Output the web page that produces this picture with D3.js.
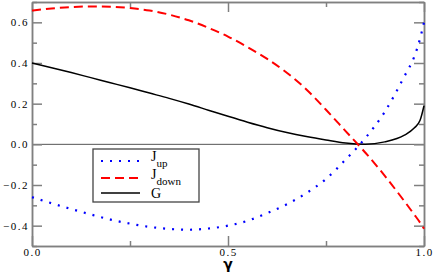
<!DOCTYPE html>
<html>
<head>
<meta charset="utf-8">
<script src="https://cdn.jsdelivr.net/npm/d3@7"></script>
<style>
  body { margin: 0; background: #fff; }
</style>
</head>
<body>
<script>
var w = 436;
var h = 273;
var plotLeft = 32, plotRight = 424, plotTop = 2, plotBottom = 246;
var serif = "'Liberation Serif', 'DejaVu Serif', serif";

// data
var gamma = [0, 0.05, 0.1, 0.15, 0.2, 0.25, 0.3, 0.35, 0.4, 0.45, 0.5, 0.55, 0.6, 0.65, 0.7, 0.75, 0.8, 0.85, 0.9, 0.95, 0.975, 0.99, 1.0];
var jUp = [-0.26, -0.29, -0.318, -0.345, -0.37, -0.39, -0.406, -0.416, -0.42, -0.414, -0.40, -0.376, -0.338, -0.295, -0.24, -0.17, -0.075, 0.03, 0.16, 0.335, 0.43, 0.52, 0.60];
var jDown = [0.658, 0.668, 0.675, 0.678, 0.677, 0.670, 0.658, 0.638, 0.61, 0.573, 0.53, 0.478, 0.42, 0.352, 0.27, 0.17, 0.065, -0.04, -0.155, -0.28, -0.345, -0.385, -0.415];
var G = [0.40, 0.377, 0.353, 0.328, 0.303, 0.278, 0.252, 0.226, 0.198, 0.168, 0.138, 0.109, 0.082, 0.058, 0.038, 0.021, 0.006, 0.0, 0.012, 0.045, 0.08, 0.118, 0.19];

var xMajor = [0, 0.5, 1.0];
var xMinor = [0.25, 0.75];
var yMajor = [-0.4, -0.2, 0.0, 0.2, 0.4, 0.6];
var yMinor = [-0.5, -0.3, -0.1, 0.1, 0.3, 0.5, 0.7];

var legendNames = ["J", "J", "G"];
var legendSubs = ["up", "down", ""];

var xScale = d3.scaleLinear().domain([0, 1]).range([plotLeft, plotRight]);
var yScale = d3.scaleLinear().domain([-0.5, 0.7]).range([plotBottom, plotTop]);

var svg = d3.select("body")
            .append("svg")
            .attr("width", w)
            .attr("height", h);

// zero line
svg.append("line")
   .attr("x1", plotLeft).attr("x2", plotRight)
   .attr("y1", yScale(0)).attr("y2", yScale(0))
   .attr("stroke", "#555").attr("stroke-width", 1);

function styleAxis(g) {
  g.selectAll("path, line").attr("stroke", "#808080").attr("stroke-width", 1.5);
  g.selectAll("text").attr("fill", "#000")
   .style("font-size", "11px")
   .style("font-family", serif)
   .style("letter-spacing", "1.5px");
}

// left axis
svg.append("g").attr("transform", "translate(" + plotLeft + ",0)")
   .call(d3.axisLeft(yScale).tickValues(yMajor).tickSizeInner(-10).tickSizeOuter(0).tickPadding(3)
         .tickFormat(d3.format(".1f")))
   .call(styleAxis);
svg.append("g").attr("transform", "translate(" + plotLeft + ",0)")
   .call(d3.axisLeft(yScale).tickValues(yMinor).tickSizeInner(-5).tickSizeOuter(0).tickFormat(""))
   .call(styleAxis);

// right axis
svg.append("g").attr("transform", "translate(" + plotRight + ",0)")
   .call(d3.axisRight(yScale).tickValues(yMajor).tickSizeInner(-10).tickSizeOuter(0).tickFormat(""))
   .call(styleAxis);
svg.append("g").attr("transform", "translate(" + plotRight + ",0)")
   .call(d3.axisRight(yScale).tickValues(yMinor).tickSizeInner(-5).tickSizeOuter(0).tickFormat(""))
   .call(styleAxis);

// bottom axis
svg.append("g").attr("transform", "translate(0," + plotBottom + ")")
   .call(d3.axisBottom(xScale).tickValues(xMajor).tickSizeInner(-10).tickSizeOuter(0).tickPadding(2)
         .tickFormat(d3.format(".1f")))
   .call(styleAxis);
svg.append("g").attr("transform", "translate(0," + plotBottom + ")")
   .call(d3.axisBottom(xScale).tickValues(xMinor).tickSizeInner(-5).tickSizeOuter(0).tickFormat(""))
   .call(styleAxis);

// top axis
svg.append("g").attr("transform", "translate(0," + plotTop + ")")
   .call(d3.axisTop(xScale).tickValues(xMajor).tickSizeInner(-10).tickSizeOuter(0).tickFormat(""))
   .call(styleAxis);
svg.append("g").attr("transform", "translate(0," + plotTop + ")")
   .call(d3.axisTop(xScale).tickValues(xMinor).tickSizeInner(-5).tickSizeOuter(0).tickFormat(""))
   .call(styleAxis);

// axis title
svg.append("text")
   .attr("x", xScale(0.5)).attr("y", 269)
   .attr("text-anchor", "middle")
   .style("font-family", "'DejaVu Sans', sans-serif")
   .style("font-weight", "bold")
   .style("font-size", "14px")
   .text("γ");

// curves
var line = d3.line()
  .x(function(d, i) { return xScale(gamma[i]); })
  .y(function(d) { return yScale(d); })
  .curve(d3.curveMonotoneX);

svg.append("path").datum(G)
   .attr("d", line).attr("fill", "none")
   .attr("stroke", "#000").attr("stroke-width", 1.5);

svg.append("path").datum(jDown)
   .attr("d", line).attr("fill", "none")
   .attr("stroke", "#ff0000").attr("stroke-width", 2)
   .attr("stroke-dasharray", "9,5");

svg.append("path").datum(jUp)
   .attr("d", line).attr("fill", "none")
   .attr("stroke", "#0000ff").attr("stroke-width", 2.2)
   .attr("stroke-dasharray", "2,7");

// legend
var legend = svg.append("g");
legend.append("rect")
   .attr("x", 93).attr("y", 149).attr("width", 106).attr("height", 53)
   .attr("fill", "#fff").attr("stroke", "#444").attr("stroke-width", 1.3);

var legendY = [161, 178, 193];
var textY = [161, 179, 198];
var styles = [
  { color: "#0000ff", width: 2.2, dash: "2,7" },
  { color: "#ff0000", width: 2, dash: "9,5" },
  { color: "#000", width: 1.5, dash: null }
];

legendNames.forEach(function(name, i) {
  legend.append("line")
     .attr("x1", 101).attr("x2", 140)
     .attr("y1", legendY[i]).attr("y2", legendY[i])
     .attr("stroke", styles[i].color)
     .attr("stroke-width", styles[i].width)
     .attr("stroke-dasharray", styles[i].dash);
  var t = legend.append("text")
     .attr("x", 151).attr("y", textY[i])
     .style("font-family", serif)
     .style("font-size", "14px")
     .text(name);
  if (legendSubs[i]) {
    t.append("tspan")
     .attr("dy", 6)
     .style("font-size", "11px")
     .text(legendSubs[i]);
  }
});
</script>
</body>
</html>
